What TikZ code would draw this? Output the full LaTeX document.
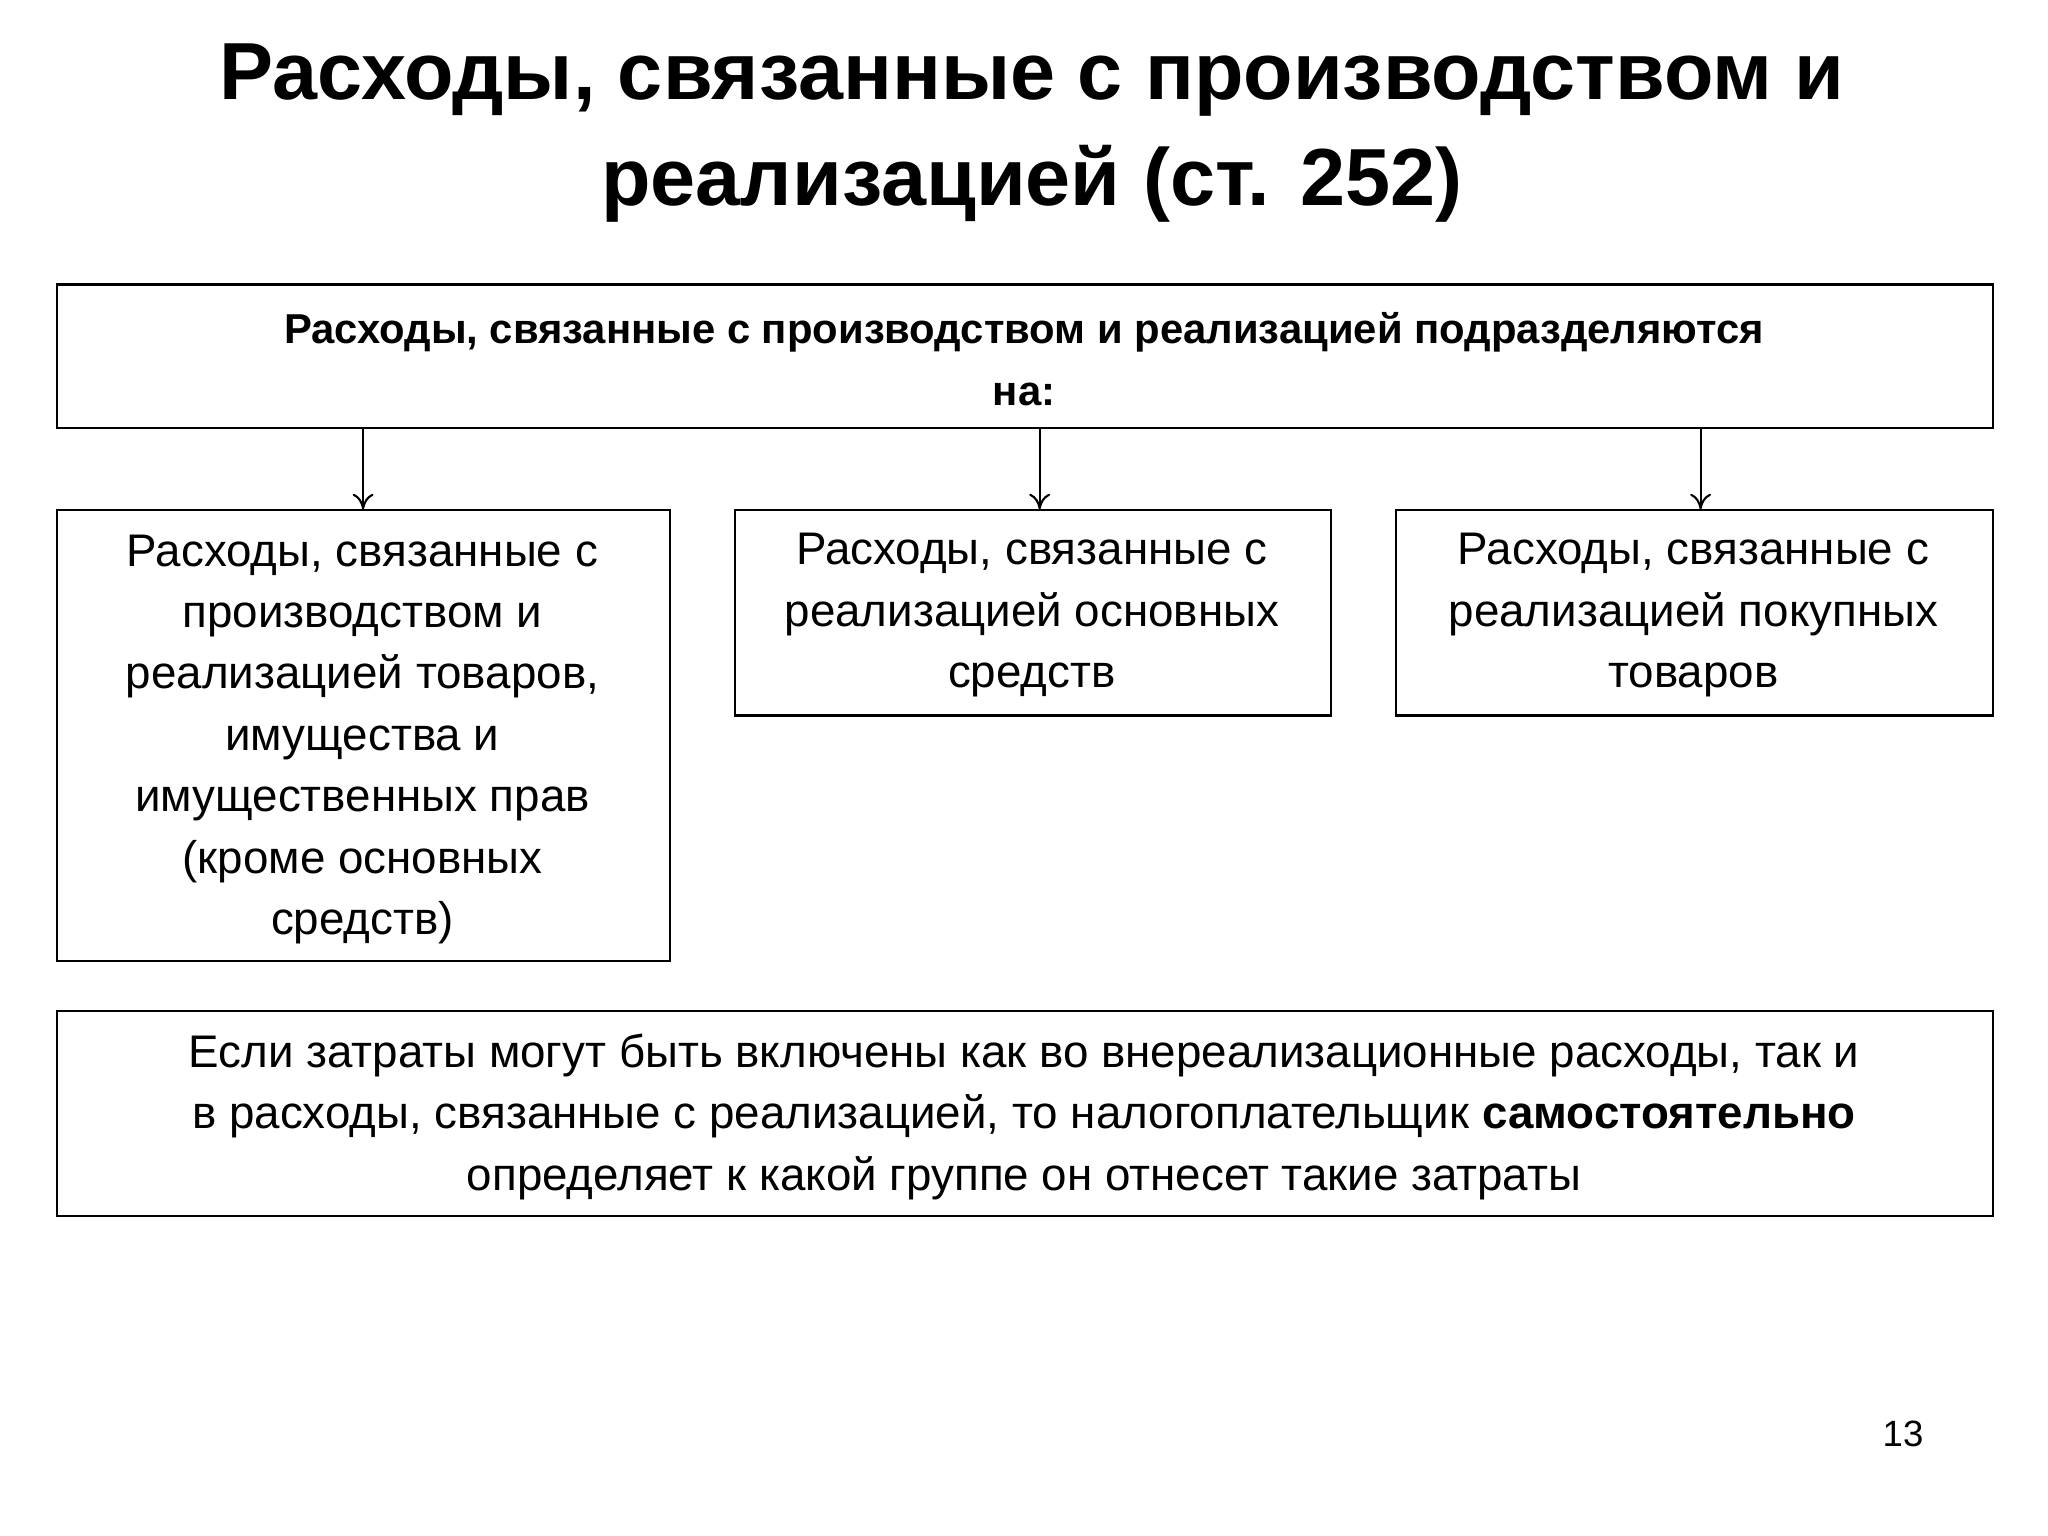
\documentclass[tikz,border=0pt]{standalone}
\usepackage{fontspec}
\setmainfont{Liberation Sans}
\usetikzlibrary{arrows.meta}
\begin{document}
\begin{tikzpicture}[x=0.5pt,y=-0.5pt,
  box/.style={draw,line width=0.8pt,inner sep=0pt,anchor=north west},
  txt/.style={align=center,font=\fontsize{17.5pt}{23.5pt}\selectfont},
  arr/.style={-{To[open,length=6pt,width=8pt]},line width=0.8pt}]
\useasboundingbox (0,0) rectangle (1568,1176);
\node[align=center,font=\bfseries\fontsize{31pt}{40.5pt}\selectfont] (title) at (790,102)
  {Расходы, связанные с производством и\\реализацией (ст. 252)};
\node[box,minimum width=741pt,minimum height=55pt] (top) at (43,217) {};
\node[txt,font=\bfseries\fontsize{16pt}{23.5pt}\selectfont] (toptxt) at (784,275)
  {Расходы, связанные с производством и реализацией подразделяются\\на:};
\node[box,minimum width=234.5pt,minimum height=172.5pt] (b1) at (43,390) {};
\node[txt] (t1) at (277.5,566) {Расходы, связанные с\\производством и\\реализацией товаров,\\имущества и\\имущественных прав\\(кроме основных\\средств)};
\node[box,minimum width=228pt,minimum height=78.5pt] (b2) at (562,390) {};
\node[txt] (t2) at (790,471) {Расходы, связанные с\\реализацией основных\\средств};
\node[box,minimum width=228.5pt,minimum height=78.5pt] (b3) at (1068,390) {};
\node[txt] (t3) at (1296.5,471) {Расходы, связанные с\\реализацией покупных\\товаров};
\node[box,minimum width=741pt,minimum height=78.5pt] (bot) at (43,773) {};
\node[txt] (t4) at (784,855) {Если затраты могут быть включены как во внереализационные расходы, так и\\в расходы, связанные с реализацией, то налогоплательщик \textbf{самостоятельно}\\определяет к какой группе он отнесет такие затраты};
\node[font=\fontsize{14pt}{16pt}\selectfont] (num) at (1457,1098) {13};
\coordinate (a1) at (278,327);
\coordinate (a2) at (796,327);
\coordinate (a3) at (1302,327);
\draw[arr] (a1) -- (a1 |- b1.north);
\draw[arr] (a2) -- (a2 |- b2.north);
\draw[arr] (a3) -- (a3 |- b3.north);
\end{tikzpicture}
\end{document}
